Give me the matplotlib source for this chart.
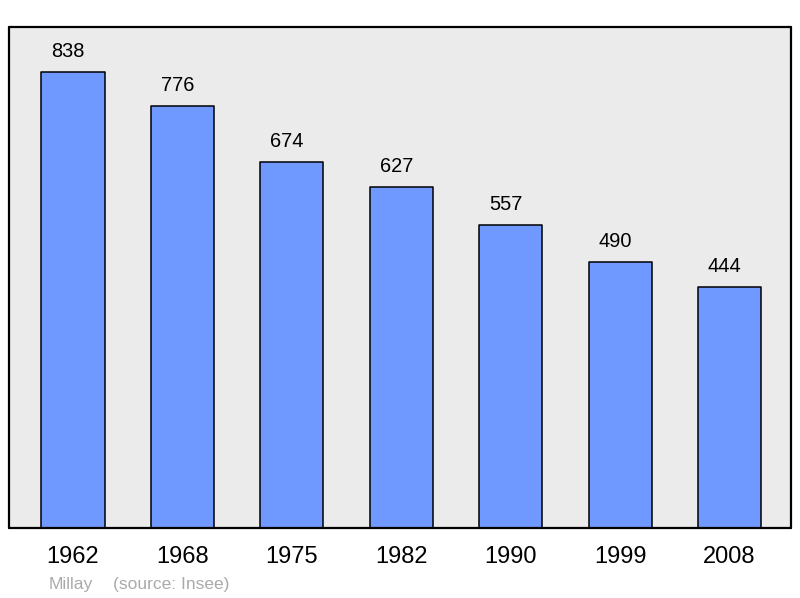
import matplotlib.pyplot as plt
import numpy as np

plt.rcParams['font.family'] = ['Liberation Sans', 'DejaVu Sans']

years = ['1962', '1968', '1975', '1982', '1990', '1999', '2008']
population = [838, 776, 674, 627, 557, 490, 444]

fig = plt.figure(figsize=(8, 5.98), dpi=100)
ax = fig.add_axes([0.01125, 0.117, 0.9775, 0.838])
ax.set_facecolor('#ebebeb')

x = np.arange(len(years))
bars = ax.bar(x, population, width=0.576, color='#7099ff', edgecolor='black',
              linewidth=1.1, joinstyle='round')

# value labels sit a little left of the bar centres in the original
for xi, v in zip(x, population):
    ax.annotate(str(v), (xi, v), xytext=(-3.5, 8), textcoords='offset points',
                ha='center', va='bottom', fontsize=14.4)

ax.set_xlim(-0.585, len(years) - 1 + 0.562)
ax.set_ylim(0, max(population) * 1.1)
ax.set_xticks(x)
ax.set_xticklabels(years, fontsize=17)
ax.tick_params(axis='x', length=0, pad=13)
ax.set_yticks([])
for s in ax.spines.values():
    s.set_linewidth(1.6)
    s.set_capstyle('round')

fig.text(49 / 800, 1 - 585 / 598, 'Millay', color='#aaaaaa', fontsize=12.6, va='center')
fig.text(113 / 800, 1 - 585 / 598, '(source: Insee)', color='#aaaaaa', fontsize=12.5, va='center')

fig.savefig('out.png', dpi=100)
